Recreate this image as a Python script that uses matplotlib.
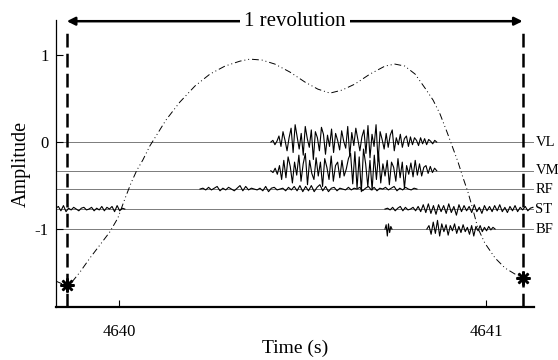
import numpy as np
import matplotlib.pyplot as plt

plt.rcParams['font.family'] = ['Liberation Serif', 'DejaVu Serif']

# pedal position curve (dash-dot-dot)
pedal_t = [4639.828, 4639.853, 4639.872, 4639.894, 4639.921, 4639.948, 4639.975, 4639.997,
           4640.016, 4640.033, 4640.049, 4640.065, 4640.084, 4640.106, 4640.128, 4640.166,
           4640.207, 4640.248, 4640.289, 4640.330, 4640.357, 4640.390, 4640.425, 4640.466,
           4640.507, 4640.542, 4640.575, 4640.608, 4640.643, 4640.684, 4640.725, 4640.752,
           4640.779, 4640.807, 4640.834, 4640.856, 4640.875, 4640.894, 4640.907, 4640.924,
           4640.937, 4640.951, 4640.965, 4640.978, 4640.997, 4641.025, 4641.052, 4641.079,
           4641.098]
pedal_y = [-1.598, -1.644, -1.609, -1.494, -1.333, -1.184, -1.034, -0.874,
           -0.655, -0.471, -0.322, -0.207, -0.046, 0.103, 0.253, 0.460,
           0.644, 0.782, 0.874, 0.931, 0.954, 0.943, 0.897, 0.805,
           0.690, 0.609, 0.563, 0.598, 0.667, 0.782, 0.874, 0.897,
           0.874, 0.782, 0.621, 0.483, 0.322, 0.115, -0.034, -0.230,
           -0.402, -0.575, -0.782, -0.989, -1.161, -1.333, -1.448, -1.517,
           -1.563]

# revolution boundaries (top dead centre)
rev_t = [4639.858, 4641.100]
rev_y = [-1.64, -1.56]

# EMG channels: name, baseline offset
channels = ['VL', 'VM', 'RF', 'ST', 'BF']
offsets = [0.0, -0.33, -0.54, -0.77, -1.0]

vl = [0, 0.02, -0.03, 0.01, 0.07, -0.05, 0.12, 0.02, -0.1, 0.05, 0.16, -0.12, 0.2, 0.06, -0.08,
      0.1, -0.15, 0.18, 0.04, -0.06, 0.14, -0.2, 0.12, 0.05, -0.1, 0.17, 0.09, -0.14, 0.08,
      -0.05, 0.15, -0.12, 0.1, 0.02, -0.09, 0.13, 0.01, -0.07, 0.18, -0.16, 0.11, -0.04, 0.16,
      0.03, -0.1, 0.06, 0.14, -0.13, 0.19, -0.18, 0.09, -0.05, 0.2, -0.22, 0.12, 0.03, -0.08,
      0.1, -0.06, 0.08, 0.14, -0.1, 0.05, -0.03, 0.09, -0.06, 0.04, 0.07, -0.05, 0.06, -0.03,
      0.05, 0.02, -0.04, 0.05, -0.02, 0.04, -0.03, 0.03, 0.01, -0.02, 0.02, 0]
vm = [0, -0.02, 0.03, -0.04, 0.06, -0.1, 0.12, -0.08, 0.16, 0.05, -0.14, 0.1, -0.05, 0.18,
      -0.12, 0.08, 0.2, -0.16, 0.12, -0.03, -0.1, 0.15, -0.06, 0.1, -0.18, 0.14, 0.04, -0.1,
      0.17, -0.12, 0.06, 0.1, -0.08, 0.12, -0.06, 0.02, 0.14, 0.2, -0.15, 0.22, -0.2, 0.16,
      -0.24, 0.25, 0.08, -0.18, 0.12, -0.22, 0.18, -0.1, 0.2, -0.14, 0.08, -0.06, 0.12, -0.16,
      0.1, 0.04, -0.12, 0.14, -0.08, 0.1, -0.2, 0.06, -0.04, 0.09, -0.07, 0.12, -0.05, 0.08,
      -0.06, 0.04, 0.06, -0.03, 0.05, -0.02, 0.03, 0]
rf = [0, 0.01, -0.01, 0.02, -0.01, 0.01, 0.03, -0.02, 0.01, -0.01, 0.02, 0.0, -0.02, 0.01, 0.04,
      -0.02, 0.03, -0.01, 0.01, 0.0, -0.01, 0.01, -0.02, 0.03, -0.03, 0.01, 0.02, -0.01, 0.0,
      0.01, -0.02, 0.02, -0.01, 0.03, -0.02, 0.04, -0.03, 0.03, -0.02, 0.04, -0.03, 0.02, 0.05,
      -0.02, 0.03, -0.03, 0.01, 0.02, -0.02, 0.01, 0.0, -0.01, 0.02, -0.01, 0.01, 0.0, 0.02,
      -0.02, 0.01, 0.03, -0.01, 0.02, -0.02, 0.01, 0.0, 0.02, -0.01, 0.01, 0.03, -0.02, 0.01,
      -0.01, 0.02, 0.0, -0.01, 0.01, 0.0]
st_a = [0.01, 0.03, -0.02, 0.04, -0.03, 0.01, -0.01, 0.02, 0.0, -0.02, 0.01, 0.02, -0.01, 0.0,
        0.02, -0.02, 0.01, -0.01, 0.03, -0.02, 0.02, 0.0, 0.03, -0.03, 0.04, -0.02, 0.01, 0.0]
st_b = [0, 0.01, -0.01, 0.02, -0.02, 0.01, 0.03, -0.02, 0.02, -0.01, 0.0, 0.02, -0.02, 0.03,
        -0.03, 0.05, -0.04, 0.06, -0.05, 0.04, -0.06, 0.05, -0.03, 0.04, -0.05, 0.06, -0.04,
        0.03, -0.07, 0.05, -0.03, 0.04, -0.02, 0.03, -0.04, 0.05, -0.03, 0.02, -0.05, 0.04,
        -0.02, 0.03, -0.03, 0.04, -0.02, 0.05, -0.03, 0.02, -0.04, 0.03, -0.02, 0.04, -0.03,
        0.02, -0.01, 0.03, -0.02, 0.01, 0.02]
bf_a = [0, 0.05, -0.08, 0.06, -0.04, 0.03, 0]
bf_b = [0, 0.04, -0.06, 0.08, -0.05, 0.1, -0.08, 0.06, -0.03, 0.05, -0.07, 0.04, -0.02, 0.06,
        -0.05, 0.03, -0.04, 0.05, -0.03, 0.02, -0.06, 0.04, -0.08, 0.03, -0.02, 0.04, -0.03,
        0.02, -0.02, 0.03, -0.01, 0.02, 0]

# bursts: (channel index, start time, end time, samples)
bursts = [(0, 4640.414, 4640.866, vl),
          (1, 4640.414, 4640.866, vm),
          (2, 4640.221, 4640.812, rf),
          (3, 4639.828, 4640.016, st_a),
          (3, 4640.725, 4641.128, st_b),
          (4, 4640.725, 4640.744, bf_a),
          (4, 4640.839, 4641.025, bf_b)]

xmin, xmax = 4639.828, 4641.131
ymin, ymax = -1.897, 1.402

fig = plt.figure(figsize=(5.58, 3.6), dpi=100)
ax = fig.add_axes([0.1, 0.147, 0.857, 0.797])

for off in offsets:
    ax.plot([xmin, xmax], [off, off], color='0.4', lw=0.6, zorder=1)

for ch, t0, t1, vals in bursts:
    t = np.linspace(t0, t1, len(vals))
    ax.plot(t, np.array(vals) + offsets[ch], color='black', lw=0.8, zorder=2)

for name, off in zip(channels, offsets):
    ax.text(xmax + 0.004, off, name, fontsize=10.5, va='center', ha='left', clip_on=False)

ax.plot(pedal_t, pedal_y, color='black', lw=0.7,
        linestyle=(0, (7, 3, 1, 3, 1, 3)), zorder=3)

for t in rev_t:
    ax.plot([t, t], [ymin, 1.32], color='black', lw=1.8,
            linestyle=(0, (5.5, 2.5)), zorder=4)
ax.plot(rev_t, rev_y, linestyle='none', marker=(8, 2, 0), markersize=10,
        markeredgewidth=1.8, color='black', zorder=5)

ax.annotate('', xy=(rev_t[0], 1.39), xytext=(rev_t[1], 1.39),
            arrowprops=dict(arrowstyle='<|-|>', color='black', lw=1.8,
                            mutation_scale=12, shrinkA=0, shrinkB=0),
            annotation_clip=False)
ax.text(4640.48, 1.39, '1 revolution', fontsize=15, ha='center', va='center',
        bbox=dict(facecolor='white', edgecolor='none', pad=3), zorder=6)

ax.set_xlim(xmin, xmax)
ax.set_ylim(ymin, ymax)
ax.set_xticks([4640, 4641])
ax.set_yticks([-1, 0, 1])
ax.set_xticklabels(['4640', '4641'])
ax.set_yticklabels(['-1', '0', '1'])
ax.tick_params(axis='x', direction='in', length=5, pad=12, labelsize=12)
ax.tick_params(axis='y', direction='in', length=5, pad=5, labelsize=12)
ax.spines['top'].set_visible(False)
ax.spines['right'].set_visible(False)
ax.spines['bottom'].set_linewidth(1.6)
ax.spines['left'].set_linewidth(0.9)
ax.set_xlabel('Time (s)', fontsize=14, labelpad=0)
ax.set_ylabel('Amplitude', fontsize=14.5, labelpad=3)

fig.savefig('out.png', dpi=100)
